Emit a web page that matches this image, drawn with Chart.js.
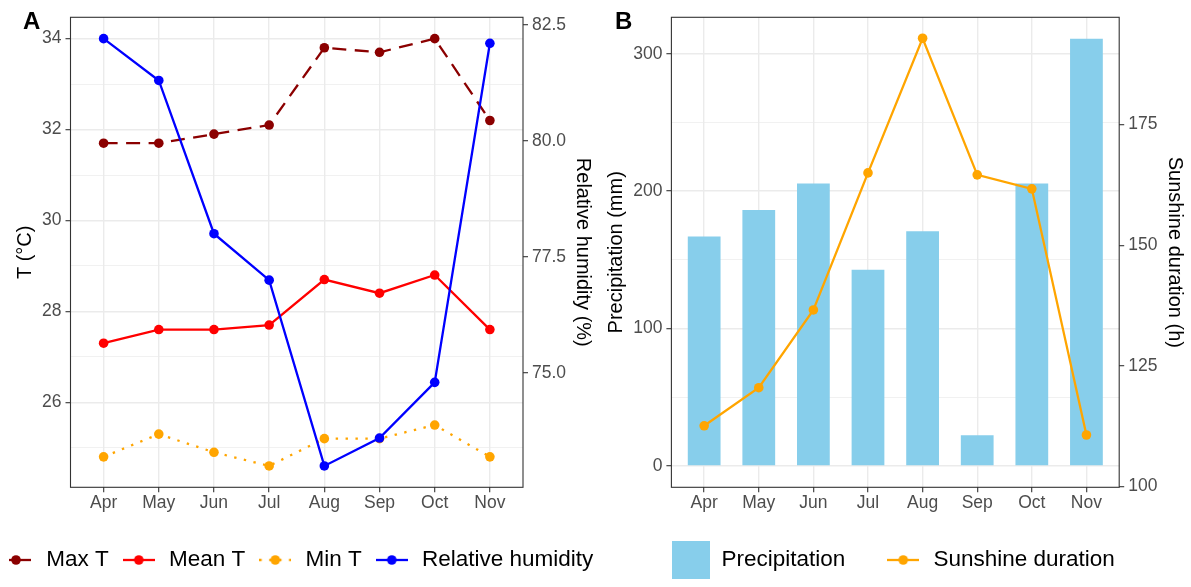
<!DOCTYPE html>
<html><head><meta charset="utf-8">
<script src="https://cdn.jsdelivr.net/npm/chart.js@4.4.1/dist/chart.umd.min.js"></script>
<style>
html,body{margin:0;padding:0;background:#fff;}
body{width:1191px;height:587px;position:relative;overflow:hidden;font-family:"Liberation Sans",Arial,sans-serif;}
.wrap{position:absolute;top:0;height:587px;}
.tag{position:absolute;font-weight:bold;font-size:24px;line-height:24px;color:#000;}
</style></head><body>
<div class="wrap" style="left:-14px;width:640px"><canvas id="chartA"></canvas></div>
<div class="wrap" style="left:600px;width:587px"><canvas id="chartB"></canvas></div>
<div class="tag" style="left:23px;top:9px">A</div>
<div class="tag" style="left:615px;top:9px">B</div>
<script>
// ---- data ----
const months = ['Apr','May','Jun','Jul','Aug','Sep','Oct','Nov'];
const maxT = [31.7,31.7,31.9,32.1,33.8,33.7,34.0,32.2];
const meanT = [27.3,27.6,27.6,27.7,28.7,28.4,28.8,27.6];
const minT = [24.8,25.3,24.9,24.6,25.2,25.2,25.5,24.8];
const humidity = [82.2,81.3,78.0,77.0,73.0,73.6,74.8,82.1];
const precipitation = [167,186.3,205.5,142.8,170.8,22.3,205.5,311];
const sunshine = [112.6,120.5,136.6,165.0,192.9,164.6,161.7,110.7];
const tempTicks = [26,28,30,32,34];
const humidityTicks = [75,77.5,80,82.5];
const precipTicks = [0,100,200,300];
const sunshineTicks = [100,125,150,175];
const sunshineRange = [99.86,197.24];

// ---- helpers ----
Chart.defaults.font.family = '"Liberation Sans", Arial, sans-serif';
Chart.defaults.color = '#4D4D4D';
function expanded(values){const lo=Math.min(...values),hi=Math.max(...values),p=(hi-lo)*0.05;return [lo-p,hi+p];}
const tRange = expanded([...maxT,...meanT,...minT]);
const hRange = expanded(humidity);
const pRange = expanded([0,...precipitation]);
const pts = arr => arr.map((v,i)=>({x:i,y:v}));
function withMinor(major, range){
  const step=major[1]-major[0], out=[];
  for(let v=major[0]-step/2; v<=range[1]+1e-9; v+=step/2){ if(v>=range[0]-1e-9) out.push(+v.toFixed(6)); }
  return out;
}
const GRID='#EBEBEB', TICK='#333333';
function xAxis(h){
  return {
    type:'linear', min:-0.6, max:months.length-1+0.6, offset:false,
    afterBuildTicks:s=>{s.ticks=months.map((m,i)=>({value:i}));},
    afterFit:s=>{s.height=h;},
    ticks:{callback:v=>months[v]??'', color:'#4D4D4D', font:{size:17.5}, padding:0, maxRotation:0, minRotation:0, autoSkip:false},
    grid:{color:GRID, lineWidth:1.4, tickLength:5, tickColor:TICK, tickWidth:1.1, offset:false},
    border:{display:false}
  };
}
function yAxis(o){
  const vals = o.minor ? withMinor(o.major,o.range) : o.major.slice();
  const isMaj = v => o.major.some(m=>Math.abs(m-v)<1e-6);
  return {
    type:'linear', position:o.pos, min:o.range[0], max:o.range[1],
    afterBuildTicks:s=>{s.ticks=vals.map(v=>({value:v}));},
    afterFit:s=>{s.width=o.width;},
    ticks:{autoSkip:false, color:'#4D4D4D', font:{size:17.5}, padding:4, callback:v=>isMaj(v)?o.fmt(v):''},
    grid:{drawOnChartArea:o.grid, color:GRID,
      lineWidth:c=>(c.tick&&!isMaj(c.tick.value))?0.7:1.4,
      tickLength:5, tickWidth:1.1,
      tickColor:c=>(c.tick&&!isMaj(c.tick.value))?'rgba(0,0,0,0)':TICK},
    border:{display:false},
    title:{display:true, text:o.label, color:'#000', font:{size:20}, padding:{top:o.titlePad,bottom:0}}
  };
}
function lineGlyph(color, kind){
  const c=document.createElement('canvas'); c.width=32; c.height=24;
  const g=c.getContext('2d'); g.strokeStyle=color; g.lineWidth=2.3;
  g.beginPath();
  if(kind==='dashed'){ g.moveTo(9,12); g.lineTo(31,12); }
  else if(kind==='dotted'){ g.setLineDash([2.4,7.5]); g.moveTo(0,12); g.lineTo(32,12); }
  else { g.moveTo(0,12); g.lineTo(32,12); }
  g.stroke(); g.setLineDash([]);
  g.fillStyle=color; g.beginPath(); g.arc(16,12,4.8,0,Math.PI*2); g.fill();
  return c;
}
function boxGlyph(color){
  const c=document.createElement('canvas'); c.width=38; c.height=38;
  const g=c.getContext('2d'); g.fillStyle=color; g.fillRect(0,0,38,38); return c;
}
const frame = {id:'frame',
  beforeDraw(chart){ const s=chart.scales.x; if(s){ s._computeLabelArea=()=>null; } },
  afterDatasetsDraw(chart){
    const {ctx, chartArea:a}=chart; ctx.save(); ctx.strokeStyle=TICK; ctx.lineWidth=1.1;
    ctx.strokeRect(a.left,a.top,a.right-a.left,a.bottom-a.top); ctx.restore();
  }};
const lineStyle = (color)=>({borderColor:color, backgroundColor:color, pointBackgroundColor:color,
  borderWidth:2.3, pointRadius:4.8, pointHoverRadius:4.8, pointBorderWidth:0, tension:0, fill:false});
const legendItem = (text, glyph, i)=>({text, pointStyle:glyph, fillStyle:'rgba(0,0,0,0)', strokeStyle:'rgba(0,0,0,0)', lineWidth:0, hidden:false, datasetIndex:i});

// ---- Panel A ----
const itemsA = [
  legendItem('Max T', lineGlyph('#8B0000','dashed'), 1),
  legendItem('Mean T', lineGlyph('#FF0000','solid'), 2),
  legendItem('Min T', lineGlyph('#FFA500','dotted'), 3),
  legendItem('Relative humidity', lineGlyph('#0000FF','solid'), 0)
];
new Chart(document.getElementById('chartA'), {
  type:'line',
  data:{datasets:[
    {label:'Relative humidity', data:pts(humidity), yAxisID:'y1', order:0, ...lineStyle('#0000FF')},
    {label:'Max T', data:pts(maxT), yAxisID:'y', order:1, borderDash:[14,8.5], ...lineStyle('#8B0000')},
    {label:'Mean T', data:pts(meanT), yAxisID:'y', order:2, ...lineStyle('#FF0000')},
    {label:'Min T', data:pts(minT), yAxisID:'y', order:3, borderDash:[2.4,7.5], ...lineStyle('#FFA500')}
  ]},
  options:{
    responsive:true, maintainAspectRatio:false, animation:false, events:[],
    layout:{padding:{top:17.3,bottom:5.75,left:0,right:0}},
    scales:{
      x:xAxis(50.45),
      y:yAxis({pos:'left', range:tRange, major:tempTicks, minor:true, grid:true, width:84.5, titlePad:27, label:'T (°C)', fmt:v=>String(v)}),
      y1:yAxis({pos:'right', range:hRange, major:humidityTicks, minor:false, grid:false, width:103, titlePad:31, label:'Relative humidity (%)', fmt:v=>v.toFixed(1)})
    },
    plugins:{
      tooltip:{enabled:false},
      legend:{position:'bottom', align:'start', labels:{usePointStyle:true, pointStyleWidth:38, padding:11, color:'#000', font:{size:22.5}, generateLabels:()=>itemsA}}
    }
  },
  plugins:[frame]
});

// ---- Panel B ----
const itemsB = [
  legendItem('Precipitation', boxGlyph('#87CEEB'), 1),
  legendItem('Sunshine duration', lineGlyph('#FFA500','solid'), 0)
];
new Chart(document.getElementById('chartB'), {
  type:'bar',
  data:{datasets:[
    {type:'line', label:'Sunshine duration', data:pts(sunshine), yAxisID:'y1', order:0, ...lineStyle('#FFA500')},
    {type:'bar', label:'Precipitation', data:pts(precipitation), yAxisID:'y', order:1, backgroundColor:'#87CEEB', borderWidth:0, barPercentage:0.6, categoryPercentage:1}
  ]},
  options:{
    responsive:true, maintainAspectRatio:false, animation:false, events:[],
    layout:{padding:{top:17.3,bottom:5.75,left:0,right:0}},
    scales:{
      x:xAxis(22.45),
      y:yAxis({pos:'left', range:pRange, major:precipTicks, minor:true, grid:true, width:71.4, titlePad:4, label:'Precipitation (mm)', fmt:v=>String(v)}),
      y1:yAxis({pos:'right', range:sunshineRange, major:sunshineTicks, minor:false, grid:false, width:67.8, titlePad:0, label:'Sunshine duration (h)', fmt:v=>String(v)})
    },
    plugins:{
      tooltip:{enabled:false},
      legend:{position:'bottom', align:'center', labels:{usePointStyle:true, pointStyleWidth:38, padding:39, color:'#000', font:{size:22.5}, generateLabels:()=>itemsB}}
    }
  },
  plugins:[frame]
});
</script>
</body></html>
